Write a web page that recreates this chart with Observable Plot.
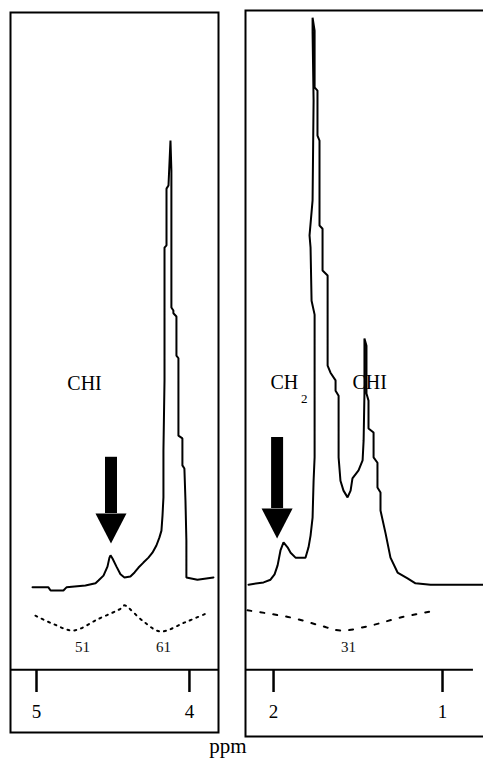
<!DOCTYPE html>
<html>
<head>
<meta charset="utf-8">
<script src="https://cdn.jsdelivr.net/npm/d3@7"></script>
<script src="https://cdn.jsdelivr.net/npm/@observablehq/plot@0.6"></script>
<style>
  html, body { margin: 0; padding: 0; background: #fff; }
  #wrap { position: relative; width: 483px; height: 759px; overflow: hidden; font-family: "Liberation Serif", serif; }
  #left { position: absolute; left: 0; top: 0; width: 240px; height: 740px; }
  #right { position: absolute; left: 240px; top: 0; width: 260px; height: 740px; }
  #left svg, #right svg { max-width: none !important; display: block; }
  #cap { position: absolute; left: 0; top: 736px; width: 456px; text-align: center; font-size: 21px; line-height: 21px; color: #000; }
</style>
</head>
<body>
<div id="wrap">
  <div id="left"></div>
  <div id="right"></div>
  <div id="cap">ppm</div>
</div>
<script>
// ---- Data (ppm, intensity in arbitrary units) ----
const leftPpm = [5.026,4.922,4.908,4.824,4.804,4.680,4.614,4.595,4.562,4.536,4.523,4.516,4.503,4.477,4.451,4.425,4.386,4.359,4.333,4.301,4.268,4.242,4.216,4.196,4.183,4.176,4.170,4.170,4.163,4.163,4.150,4.150,4.137,4.124,4.118,4.118,4.105,4.105,4.085,4.085,4.072,4.072,4.046,4.046,4.033,4.026,4.020,4.020,3.948,3.843];
const leftInt = [0.7,0.7,0,0,0.7,1.1,1.6,2.2,3.3,5.3,7.3,7.8,7.1,5.3,3.6,2.9,3.1,4.0,5.1,6.2,7.3,8.4,10.0,11.8,13.3,16.7,20.7,31.1,46.7,76.2,76.7,89.3,90.0,100.0,93.3,62.9,62.2,61.6,60.9,52.2,51.6,34.4,33.8,27.8,27.1,20.0,11.1,2.9,2.4,2.9];

const rightPpm = [2.148,2.059,2.018,1.994,1.976,1.959,1.941,1.917,1.899,1.870,1.811,1.793,1.781,1.769,1.763,1.757,1.757,1.775,1.781,1.787,1.769,1.763,1.769,1.769,1.757,1.757,1.740,1.740,1.728,1.728,1.710,1.710,1.680,1.680,1.663,1.633,1.633,1.615,1.615,1.604,1.586,1.562,1.544,1.533,1.497,1.473,1.467,1.462,1.462,1.450,1.450,1.438,1.438,1.408,1.408,1.385,1.385,1.367,1.367,1.337,1.308,1.266,1.207,1.160,1.071,0.716];
const rightInt = [1.3,1.8,2.4,3.6,5.6,8.9,10.7,9.6,8.4,7.3,7.3,9.6,12.2,16.2,24.4,29.6,61.3,64.4,76.2,78.9,86.7,108.9,124.0,127.3,124.4,111.8,111.1,101.1,100.0,81.1,80.4,71.1,70.0,50.0,48.4,46.7,44.4,43.3,29.6,24.4,22.2,20.7,22.2,24.9,26.7,28.9,33.3,43.8,56.0,54.4,43.8,42.2,36.0,35.1,29.6,28.4,22.9,21.8,17.8,12.7,7.3,4.0,2.7,1.6,1.3,1.3];

// integral traces (dotted)
const leftIntegralPpm = [5.007,4.880,4.758,4.600,4.438,4.425,4.300,4.190,4.030,3.876];
const leftIntegralInt = [-5.6,-7.6,-8.9,-6.4,-3.8,-3.3,-6.9,-9.1,-7.1,-4.9];
const rightIntegralPpm = [2.154,1.899,1.722,1.604,1.426,1.249,1.030];
const rightIntegralInt = [-4.4,-6.0,-7.8,-8.9,-7.8,-6.0,-4.4];

// integral value labels (as printed, partly illegible)
const leftIntegralLabels = [{ppm: 4.699, I: -12.6, t: "51"}, {ppm: 4.170, I: -12.6, t: "61"}];
const rightIntegralLabels = [{ppm: 1.556, I: -12.6, t: "31"}];

// group labels
const leftLabels = [{ppm: 4.686, I: 46.0, t: "CHI"}];
const rightLabels = [{ppm: 2.018, I: 46.2, t: "CH"}, {ppm: 1.533, I: 46.2, t: "CHI"}];
const rightSubs = [{ppm: 1.838, I: 42.6, t: "2"}];

// arrows: x, top of shaft, top of head
const leftArrows = [{ppm: 4.513, top: 29.6, head: 17.1}];
const rightArrows = [{ppm: 1.979, top: 34.0, head: 18.2}];

// axis ticks
const leftTicks = [5, 4];
const rightTicks = [2, 1];

const toRows = (xs, ys) => xs.map((x, i) => ({ppm: x, I: ys[i]}));

const headSymbol = {
  draw(ctx) {
    ctx.moveTo(-15.5, 0);
    ctx.lineTo(15.5, 0);
    ctx.lineTo(0, 30);
    ctx.closePath();
  }
};

function panel(o) {
  const axisLevel = -17.6;
  return Plot.plot({
    width: o.width,
    height: 740,
    marginLeft: o.ml, marginRight: o.mr, marginTop: o.mt, marginBottom: o.mb,
    style: {fontFamily: "Liberation Serif, serif", background: "transparent", overflow: "visible", maxWidth: "none"},
    x: {domain: o.xDomain},
    y: {domain: o.yDomain, axis: null},
    marks: [
      Plot.frame({stroke: "black", strokeWidth: 2}),
      Plot.ruleY([axisLevel], {x1: o.xDomain[0], x2: o.axisEnd, stroke: "black", strokeWidth: 2}),
      Plot.axisX({ticks: o.ticks, tickSize: 22, tickPadding: 12, fontSize: 19, strokeWidth: 2.5, stroke: "black", fill: "black", dy: o.axisDy, label: null, tickFormat: d => String(d)}),
      Plot.line(toRows(o.intPpm, o.intInt), {x: "ppm", y: "I", stroke: "black", strokeWidth: 2, strokeDasharray: o.dash, curve: "catmull-rom"}),
      Plot.text(o.intLabels, {x: "ppm", y: "I", text: "t", fontSize: 15, fill: "#111", lineAnchor: "middle"}),
      Plot.line(toRows(o.sPpm, o.sInt), {x: "ppm", y: "I", stroke: "black", strokeWidth: 2, strokeLinejoin: "miter"}),
      Plot.ruleX(o.arrows, {x: "ppm", y1: "top", y2: "head", stroke: "black", strokeWidth: 12}),
      Plot.dot(o.arrows, {x: "ppm", y: "head", symbol: headSymbol, fill: "black", stroke: "none"}),
      Plot.text(o.labels, {x: "ppm", y: "I", text: "t", fontSize: 20, textAnchor: o.anchor, fill: "black"}),
      Plot.text(o.subs || [], {x: "ppm", y: "I", text: "t", fontSize: 13, textAnchor: "start", fill: "black"})
    ]
  });
}

document.getElementById("left").append(panel({
  width: 240, ml: 10, mr: 22, mt: 12, mb: 8,
  xDomain: [5.170, 3.810], yDomain: [-31.56, 128.44],
  axisEnd: 3.810, axisDy: -62, ticks: leftTicks,
  sPpm: leftPpm, sInt: leftInt,
  intPpm: leftIntegralPpm, intInt: leftIntegralInt, dash: "2,5", intLabels: leftIntegralLabels,
  arrows: leftArrows, labels: leftLabels, anchor: "middle"
}));

document.getElementById("right").append(panel({
  width: 260, ml: 5, mr: 10, mt: 10, mb: 4,
  xDomain: [2.166, 0.716], yDomain: [-32.44, 128.89],
  axisEnd: 0.817, axisDy: -66, ticks: rightTicks,
  sPpm: rightPpm, sInt: rightInt,
  intPpm: rightIntegralPpm, intInt: rightIntegralInt, dash: "4,9", intLabels: rightIntegralLabels,
  arrows: rightArrows, labels: rightLabels, subs: rightSubs, anchor: "start"
}));
</script>
</body>
</html>
